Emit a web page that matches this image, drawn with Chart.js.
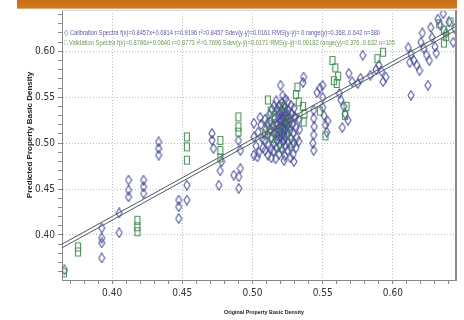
<!DOCTYPE html>
<html>
<head>
<meta charset="utf-8">
<script src="https://cdn.jsdelivr.net/npm/chart.js@4/dist/chart.umd.min.js"></script>
<style>
  html, body { margin: 0; padding: 0; background: #fff; }
  #wrap { width: 464px; height: 320px; position: relative; }
</style>
</head>
<body>
<div id="wrap"><canvas id="chart"></canvas></div>
<script>
// ─── Data ─────────────────────────────────────────────────────────────────────

const calPoints = [
  [0.366, 0.362],
  [0.3926, 0.4076], [0.3926, 0.3967], [0.3926, 0.3913], [0.3926, 0.375],
  [0.405, 0.424], [0.405, 0.4025],
  [0.4117, 0.4598], [0.4117, 0.4489], [0.4117, 0.4416],
  [0.4224, 0.4598], [0.4224, 0.4525], [0.4224, 0.4453],
  [0.4331, 0.5014], [0.4331, 0.4942], [0.4331, 0.487],
  [0.4474, 0.438], [0.4474, 0.4308], [0.4474, 0.418],
  [0.4533, 0.4543], [0.4533, 0.438],
  [0.4712, 0.5105], [0.4712, 0.5033], [0.4722, 0.4942],
  [0.476, 0.4543], [0.477, 0.47], [0.478, 0.48],
  [0.4867, 0.4652], [0.4902, 0.4634], [0.4914, 0.4725], [0.4902, 0.4507],
  [0.490, 0.503], [0.4914, 0.492],
  [0.501, 0.5217], [0.501, 0.5068], [0.501, 0.487],
  [0.5025, 0.497], [0.504, 0.512], [0.5045, 0.490], [0.506, 0.520], [0.5035, 0.485],
  [0.507, 0.505], [0.5055, 0.528], [0.5075, 0.495],
  [0.509, 0.492], [0.5085, 0.503], [0.5095, 0.515], [0.509, 0.526],
  [0.511, 0.487], [0.5115, 0.498], [0.511, 0.509], [0.5105, 0.521], [0.512, 0.531],
  [0.513, 0.494], [0.5135, 0.506], [0.513, 0.514], [0.5125, 0.524], [0.514, 0.537], [0.5135, 0.484],
  [0.515, 0.491], [0.5155, 0.500], [0.515, 0.511], [0.5145, 0.518], [0.516, 0.527], [0.5155, 0.541],
  [0.517, 0.495], [0.5175, 0.503], [0.517, 0.512], [0.5165, 0.521], [0.518, 0.530], [0.5175, 0.537], [0.517, 0.546],
  [0.519, 0.488], [0.5195, 0.498], [0.519, 0.507], [0.5185, 0.515], [0.520, 0.523], [0.5195, 0.532], [0.519, 0.541],
  [0.521, 0.493], [0.5215, 0.502], [0.521, 0.510], [0.5205, 0.518], [0.522, 0.526], [0.5215, 0.535], [0.521, 0.544], [0.5215, 0.552],
  [0.523, 0.486], [0.5235, 0.497], [0.523, 0.506], [0.5225, 0.514], [0.524, 0.522], [0.5235, 0.530], [0.523, 0.539], [0.5235, 0.548],
  [0.525, 0.492], [0.5255, 0.501], [0.525, 0.510], [0.5245, 0.519], [0.526, 0.527], [0.5255, 0.536], [0.525, 0.545],
  [0.527, 0.496], [0.5275, 0.505], [0.527, 0.514], [0.5265, 0.523], [0.528, 0.532], [0.5275, 0.541],
  [0.529, 0.488], [0.5295, 0.500], [0.529, 0.511], [0.5285, 0.520], [0.530, 0.529], [0.5295, 0.538],
  [0.531, 0.495], [0.5315, 0.506], [0.531, 0.517], [0.5305, 0.528],
  [0.533, 0.502], [0.5335, 0.515], [0.533, 0.526],
  [0.520, 0.512], [0.522, 0.517], [0.5225, 0.509], [0.524, 0.515], [0.5205, 0.525], [0.518, 0.520],
  [0.5195, 0.527], [0.5235, 0.534], [0.5215, 0.529], [0.5245, 0.526], [0.5225, 0.503], [0.5205, 0.507],
  [0.5185, 0.535], [0.5265, 0.518], [0.5215, 0.515], [0.5175, 0.508], [0.5255, 0.531], [0.5225, 0.541],
  [0.5225, 0.481], [0.527, 0.484], [0.5165, 0.483], [0.5295, 0.480],
  [0.520, 0.563], [0.536, 0.566], [0.5364, 0.572],
  [0.5436, 0.536], [0.5436, 0.527], [0.544, 0.518], [0.5436, 0.509], [0.543, 0.500], [0.5436, 0.492],
  [0.546, 0.555], [0.548, 0.560], [0.550, 0.550], [0.550, 0.563],
  [0.550, 0.539], [0.551, 0.530], [0.552, 0.520], [0.553, 0.512], [0.5536, 0.524],
  [0.563, 0.547], [0.565, 0.540], [0.566, 0.532], [0.568, 0.525], [0.564, 0.517], [0.562, 0.554],
  [0.5686, 0.576], [0.5786, 0.5957], [0.577, 0.5707], [0.575, 0.565], [0.571, 0.567],
  [0.590, 0.585], [0.592, 0.578], [0.595, 0.572], [0.593, 0.567], [0.588, 0.580], [0.584, 0.574],
  [0.6129, 0.552], [0.625, 0.563],
  [0.611, 0.604], [0.613, 0.597], [0.615, 0.590], [0.617, 0.585], [0.619, 0.579], [0.612, 0.588],
  [0.620, 0.610], [0.622, 0.603], [0.624, 0.596], [0.626, 0.590], [0.628, 0.615], [0.630, 0.605],
  [0.621, 0.620], [0.627, 0.626], [0.631, 0.598],
  [0.632, 0.635], [0.634, 0.628], [0.636, 0.641], [0.638, 0.620], [0.640, 0.632], [0.643, 0.610], [0.644, 0.625],
];

const valPoints = [
  [0.3657, 0.3587],
  [0.3757, 0.3815], [0.3757, 0.3870],
  [0.418, 0.416], [0.418, 0.409], [0.418, 0.4036],
  [0.4533, 0.5068], [0.4533, 0.496], [0.4533, 0.4815],
  [0.4771, 0.503], [0.4771, 0.492], [0.4771, 0.484],
  [0.490, 0.5286], [0.490, 0.5177], [0.490, 0.512],
  [0.511, 0.547], [0.513, 0.535],
  [0.512, 0.520], [0.514, 0.505], [0.516, 0.530], [0.518, 0.515], [0.520, 0.495],
  [0.522, 0.540], [0.524, 0.510], [0.526, 0.525], [0.528, 0.500], [0.509, 0.510],
  [0.532, 0.561], [0.531, 0.553], [0.533, 0.545],
  [0.536, 0.540], [0.537, 0.532], [0.5365, 0.523],
  [0.552, 0.508], [0.548, 0.535],
  [0.557, 0.590], [0.559, 0.582], [0.561, 0.573], [0.560, 0.565], [0.558, 0.568],
  [0.566, 0.530], [0.567, 0.540],
  [0.589, 0.592], [0.593, 0.599],
  [0.6364, 0.609], [0.6364, 0.623], [0.638, 0.616], [0.641, 0.632], [0.633, 0.630],
];

// regression lines, end points read at the plot edges
const lineX = [0.3643, 0.645];
const calLineY = [0.390, 0.627];
const valLineY = [0.386, 0.623];

const X_MIN = 0.3643;
const X_MAX = 0.645;
const Y_MIN = 0.351;
const Y_MAX = 0.645;

const legendLines = [
  '\u25C7 Calibration Spectra f(x)=0.8457x+0.0814 r=0.9196 r\u00B2=0.8457 Sdev(y-\u0177)=0.0161 RMS(y-\u0177)= 0 range(y)=0.368..0.642 n=380',
  '\u25A1 Validation Spectra f(x)=0.8786x+0.0640 r=0.8773 r\u00B2=0.7696 Sdev(y-\u0177)=0.0171 RMS(y-\u0177)=0.00182 range(y)=0.376..0.632 n=105',
];
const yTitle = 'Predicted Property Basic Density';
const xTitle = 'Original Property Basic Density';

const CAL_COLOR = 'rgba(66, 72, 150, 0.9)';
const VAL_COLOR = 'rgba(70, 140, 84, 0.95)';
const TICK_FONT = "'Liberation Sans Narrow', 'DejaVu Sans Condensed', 'Arial Narrow', sans-serif";

// ─── Marker shapes ────────────────────────────────────────────────────────────

const makeMarker = (kind, color) => {
  const c = document.createElement('canvas');
  c.width = 8;
  c.height = 11;
  const g = c.getContext('2d');
  g.strokeStyle = color;
  g.lineWidth = 1.1;
  g.beginPath();
  if (kind === 'diamond') {
    g.moveTo(4, 0.7);
    g.lineTo(7, 5.5);
    g.lineTo(4, 10.3);
    g.lineTo(1, 5.5);
    g.closePath();
  } else {
    g.rect(1.5, 1.5, 5, 8);
  }
  g.stroke();
  return c;
};

const toXY = (pts) => pts.map(([x, y]) => ({ x, y }));
const isMajor = (v) => Math.round(v * 100) % 5 === 0;

// ─── Decorations ──────────────────────────────────────────────────────────────

const frame = {
  id: 'frame',
  beforeDraw(chart) {
    const { ctx } = chart;
    ctx.save();
    ctx.fillStyle = '#ffffff';
    ctx.fillRect(0, 0, chart.width, chart.height);
    const grad = ctx.createLinearGradient(0, 0, 0, 10);
    grad.addColorStop(0, '#c96f12');
    grad.addColorStop(0.75, '#cc7a22');
    grad.addColorStop(1, 'rgba(220, 160, 90, 0.3)');
    ctx.fillStyle = grad;
    ctx.fillRect(17, 0, 440, 9);
    ctx.restore();
  },
  afterDraw(chart) {
    const { ctx, chartArea: a } = chart;
    ctx.save();
    ctx.strokeStyle = '#d8d8d8';
    ctx.lineWidth = 1;
    ctx.beginPath();
    ctx.moveTo(a.left, a.top + 0.5);
    ctx.lineTo(a.right, a.top + 0.5);
    ctx.stroke();
    ctx.strokeStyle = '#8a8a8a';
    ctx.lineWidth = 2;
    ctx.beginPath();
    ctx.moveTo(a.right, a.top);
    ctx.lineTo(a.right, a.bottom);
    ctx.stroke();

    ctx.textBaseline = 'middle';
    ctx.textAlign = 'left';
    ctx.font = "8px 'Liberation Sans', sans-serif";
    ctx.fillStyle = '#5a5aa6';
    ctx.fillText(legendLines[0], a.left + 2, 33, 316);
    ctx.fillStyle = '#6a9a58';
    ctx.fillText(legendLines[1], a.left + 2, 43, 331);

    ctx.fillStyle = '#222';
    ctx.textAlign = 'center';
    ctx.font = "bold 8px 'Liberation Sans', sans-serif";
    ctx.translate(30, 135);
    ctx.rotate(-Math.PI / 2);
    ctx.fillText(yTitle, 0, 0, 142);
    ctx.setTransform(1, 0, 0, 1, 0, 0);
    ctx.font = "bold 6px 'Liberation Sans', sans-serif";
    ctx.fillText(xTitle, 264, 312, 80);
    ctx.restore();
  },
};

// ─── Chart ────────────────────────────────────────────────────────────────────

const axis = (min, max) => ({
  type: 'linear',
  min,
  max,
  ticks: {
    stepSize: 0.01,
    includeBounds: false,
    autoSkip: false,
    maxRotation: 0,
    color: '#333',
    padding: 3,
    font: { family: TICK_FONT, size: 10 },
    callback: (v) => (isMajor(v) ? v.toFixed(2) : ''),
  },
  grid: {
    color: (ctx) => (ctx.tick && isMajor(ctx.tick.value) ? '#bdbdbd' : 'rgba(0,0,0,0)'),
    tickColor: '#8a8a8a',
    tickLength: 4,
  },
  border: { color: '#8a8a8a', width: 1, dash: [1, 2] },
});

const xScale = axis(X_MIN, X_MAX);
xScale.afterFit = (s) => { s.height = 40; };
const yScale = axis(Y_MIN, Y_MAX);
yScale.afterFit = (s) => { s.width = 62; };

new Chart(document.getElementById('chart'), {
  type: 'scatter',
  data: {
    datasets: [
      {
        label: 'Calibration line',
        data: lineX.map((x, i) => ({ x, y: calLineY[i] })),
        showLine: true,
        borderColor: '#4e5a5e',
        borderWidth: 1,
        pointRadius: 0,
      },
      {
        label: 'Validation line',
        data: lineX.map((x, i) => ({ x, y: valLineY[i] })),
        showLine: true,
        borderColor: '#4e5a5e',
        borderWidth: 1,
        pointRadius: 0,
      },
      {
        label: 'Validation Spectra',
        data: toXY(valPoints),
        pointStyle: makeMarker('square', VAL_COLOR),
      },
      {
        label: 'Calibration Spectra',
        data: toXY(calPoints),
        pointStyle: makeMarker('diamond', CAL_COLOR),
      },
    ],
  },
  options: {
    responsive: true,
    maintainAspectRatio: false,
    animation: false,
    layout: { padding: { top: 10, right: 8, left: 0, bottom: 0 } },
    plugins: {
      legend: { display: false },
      tooltip: { enabled: false },
    },
    scales: { x: xScale, y: yScale },
  },
  plugins: [frame],
});
</script>
</body>
</html>
